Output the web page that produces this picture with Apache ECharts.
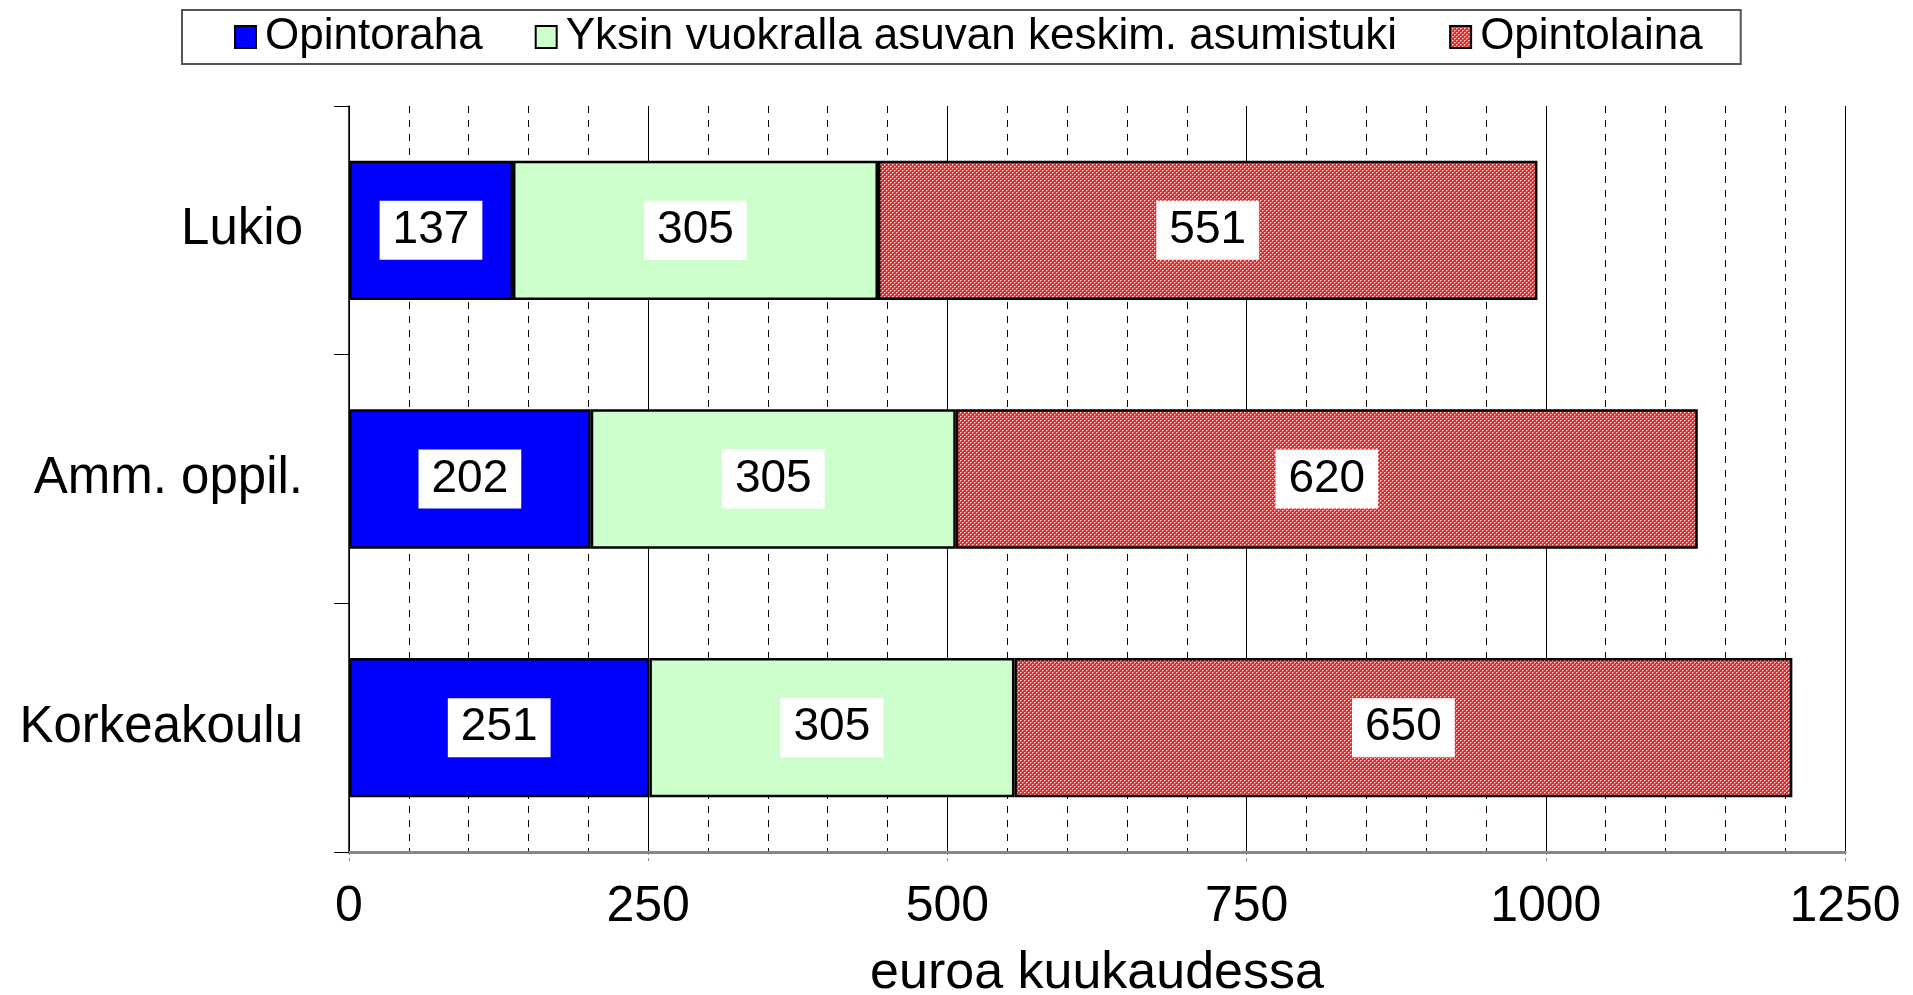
<!DOCTYPE html>
<html>
<head>
<meta charset="utf-8">
<script src="https://cdn.jsdelivr.net/npm/echarts@6/dist/echarts.min.js"></script>
<style>
  html, body { margin: 0; padding: 0; background: #fff; }
  #box { width: 1913px; height: 995px; }
</style>
</head>
<body>
<div id="box"></div>
<script>
const categories = ['Lukio', 'Amm. oppil.', 'Korkeakoulu']
const seriesNames = ['Opintoraha', 'Yksin vuokralla asuvan keskim. asumistuki', 'Opintolaina']
const opintoraha = [137, 202, 251]
const asumistuki = [305, 305, 305]
const opintolaina = [551, 620, 650]
const xTicks = [0, 250, 500, 750, 1000, 1250]

// red checkered fill for the loan series
function redPattern() {
  const c = document.createElement('canvas')
  c.width = 4
  c.height = 4
  const ctx = c.getContext('2d')
  ctx.fillStyle = '#ff1e1e'
  ctx.fillRect(0, 0, 4, 4)
  ctx.fillStyle = 'rgba(255,255,255,0.85)'
  ctx.fillRect(0, 0, 1, 1)
  ctx.fillRect(2, 2, 1, 1)
  ctx.fillStyle = 'rgba(255,160,160,0.7)'
  ctx.fillRect(1, 0, 1, 1)
  ctx.fillRect(0, 1, 1, 1)
  ctx.fillRect(3, 2, 1, 1)
  ctx.fillRect(2, 3, 1, 1)
  return c
}

const font = 'Liberation Sans'
const colors = ['#0000ff', '#ccffcc', { image: redPattern(), repeat: 'repeat' }]
const values = [opintoraha, asumistuki, opintolaina]

var myChart = echarts.init(document.getElementById('box'))
myChart.setOption({
  animation: false,
  textStyle: { fontFamily: font },
  legend: {
    data: seriesNames,
    icon: 'rect',
    left: 182,
    top: 10,
    padding: [5, 38, 5, 52],
    borderColor: '#555',
    borderWidth: 2,
    itemWidth: 21,
    itemHeight: 22,
    itemGap: 52,
    textStyle: {
      fontFamily: font,
      fontSize: 44,
      color: '#000',
      padding: [0, 0, 0, 4]
    }
  },
  grid: {
    left: 349,
    right: 68,
    top: 106,
    bottom: 143,
    outerBoundsMode: 'none'
  },
  xAxis: {
    type: 'value',
    min: 0,
    max: 1250,
    interval: 250,
    name: 'euroa kuukaudessa',
    nameLocation: 'middle',
    nameGap: 96,
    nameMoveOverlap: false,
    nameTextStyle: { fontFamily: font, fontSize: 52, color: '#000' },
    axisLine: { show: true, lineStyle: { color: '#888', width: 3 } },
    axisTick: { show: true, length: 12, lineStyle: { color: '#888', type: [3, 3] } },
    axisLabel: {
      margin: 30,
      fontFamily: font,
      fontSize: 50,
      color: '#000',
      formatter: v => (xTicks.indexOf(v) !== -1 ? String(v) : '')
    },
    splitLine: { show: true, lineStyle: { color: '#000', width: 1 } },
    minorTick: { show: false, splitNumber: 5 },
    minorSplitLine: { show: true, lineStyle: { color: '#000', width: 1, type: [7, 7] } }
  },
  yAxis: {
    type: 'category',
    data: categories,
    inverse: true,
    axisLine: { show: true, lineStyle: { color: '#000', width: 1.5 } },
    axisTick: { show: true, length: 15, lineStyle: { color: '#000' } },
    axisLabel: { margin: 46, fontFamily: font, fontSize: 51, color: '#000' }
  },
  series: seriesNames.map((name, i) => ({
    name: name,
    type: 'bar',
    stack: 'total',
    data: values[i],
    barCategoryGap: '44%',
    itemStyle: { color: colors[i], borderColor: '#000', borderWidth: 2.5 },
    label: {
      show: true,
      position: 'inside',
      fontFamily: font,
      fontSize: 46,
      color: '#000',
      backgroundColor: '#fff',
      padding: [7, 13, 6, 13]
    }
  }))
})
</script>
</body>
</html>
